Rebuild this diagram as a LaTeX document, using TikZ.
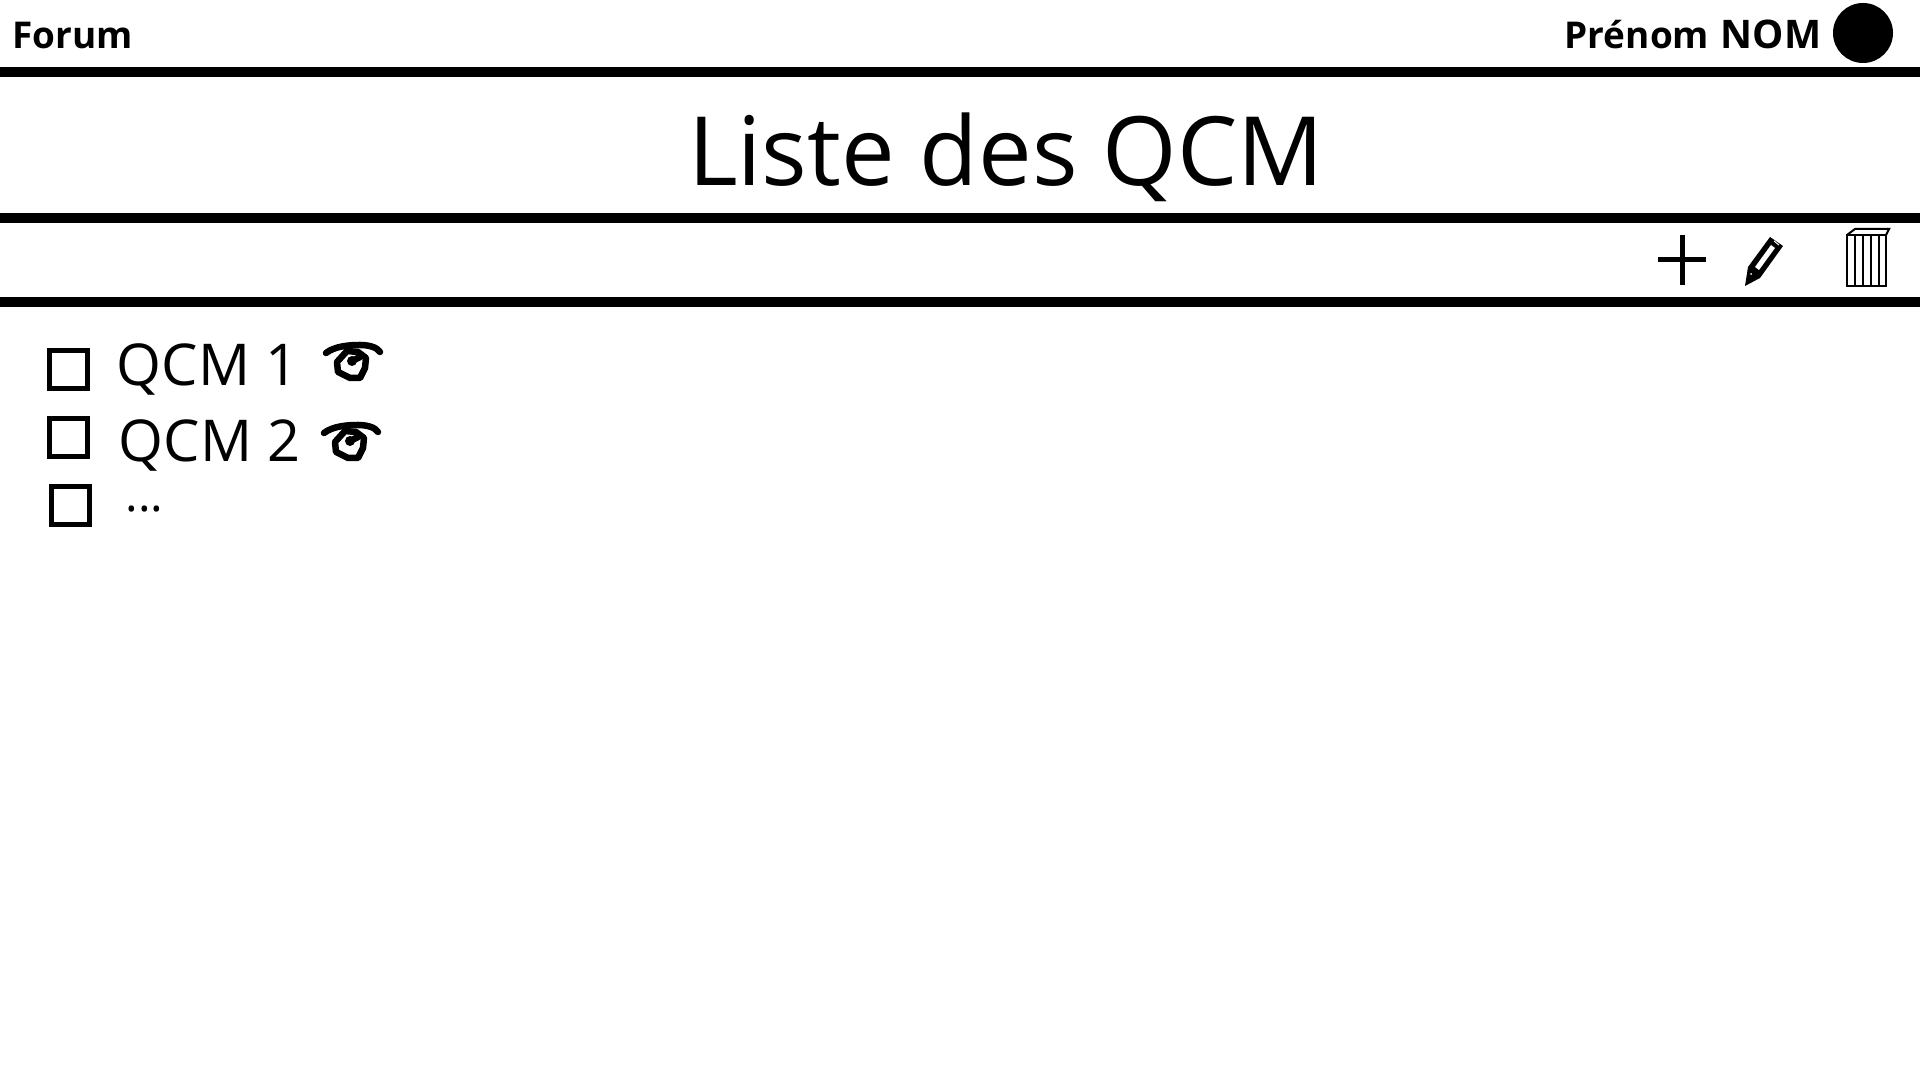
\documentclass[tikz,border=0pt]{standalone}
\usepackage{fontspec}
\setmainfont{Open Sans}
\usetikzlibrary{calc}

\tikzset{
    bar/.style={line width=0.1cm},
    tickbox/.style={line width=0.05cm},
    headtext/.style={anchor=base west,inner sep=0pt,font=\fontsize{10.5}{13}\selectfont\bfseries},
    itemtext/.style={anchor=base west,inner sep=0pt,font=\fontsize{16.4}{20}\selectfont},
    eye/.style={line width=0.065cm,line cap=round,line join=round}
}

\begin{document}
\begin{tikzpicture}[x=0.01cm,y=-0.01cm]

\useasboundingbox (0,0) rectangle (1920,1080);
\fill[white] (0,0) rectangle (1920,1080);

% Header
\node[headtext] (forum) at (12,49) {Forum};
\node[headtext] (user) at (1564,49) {Prénom\hspace{0.32em}{\fontsize{11.2}{13}\selectfont NOM}};
\fill (1863,33) circle (30);

% Bars
\draw[bar] (0,72) -- (1920,72);
\draw[bar] (0,218) -- (1920,218);
\draw[bar] (0,302) -- (1920,302);

% Title
\node[anchor=base,inner sep=0pt,font=\fontsize{27.2}{33}\selectfont] (title) at (1006,186) {Liste des QCM};

% Plus
\draw[line width=0.05cm] (1658,260) -- (1706,260);
\draw[line width=0.05cm] (1682,235) -- (1682,285);

% Pencil
\fill (1745,286) -- (1748,267) -- (1770,237) -- (1783,246) -- (1760,278) -- cycle;
\fill[white] (1755,267) -- (1771,245) -- (1775,248) -- (1759,270) -- cycle;
\draw[white,line width=0.01cm] (1774,241) -- (1779,245);
\fill[white] (1751,274) circle (1);

% Trash
\draw[line width=0.02cm] (1847,235) rectangle (1886,286);
\draw[line width=0.02cm] (1847,235) -- (1855,229) -- (1889,229) -- (1886,235);
\foreach \x in {1855,1863,1871,1879} {
    \draw[line width=0.02cm] (\x,235) -- (\x,286);
}

% Checkboxes
\draw[tickbox] (49.5,350.5) rectangle (87.5,388.5);
\draw[tickbox] (49.5,418.5) rectangle (87.5,456.5);
\draw[tickbox] (51.5,486.5) rectangle (89.5,524.5);

% Items
\node[itemtext] (qcma) at (116,386) {QCM 1};
\node[itemtext] (qcmb) at (118,462) {QCM 2};
\node[itemtext,font=\fontsize{13.5}{16}\selectfont] (qcmc) at (125,512) {...};

% Eyes
\foreach \dx/\dy in {0/0,-2/80} {
    \begin{scope}[shift={(\dx,\dy)}]
        \draw[eye] (326,353) .. controls (335,346) and (350,345) .. (360,345) .. controls (368,345) and (377,347) .. (380,352);
        \draw[eye] (347,351) -- (337,362) -- (338,372) -- (350,378) -- (360,378) -- (365,368) -- (366,358) -- (358,352) -- cycle;
        \fill (352,361) circle (5);
        \draw[eye] (352,361) -- (360,357);
    \end{scope}
}

\end{tikzpicture}
\end{document}
